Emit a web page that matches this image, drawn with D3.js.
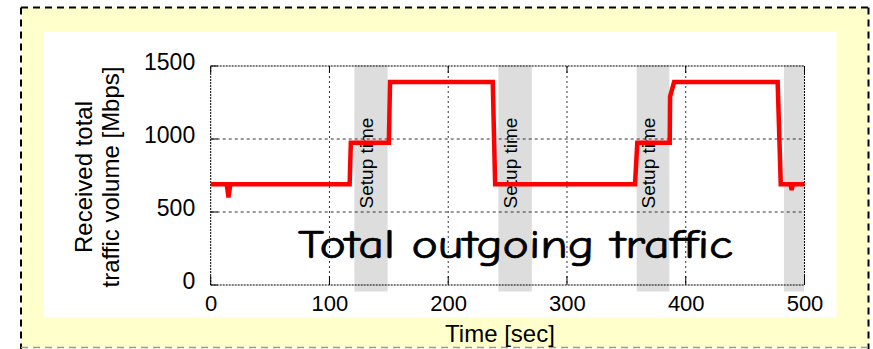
<!DOCTYPE html>
<html>
<head>
<meta charset="utf-8">
<script src="https://cdn.jsdelivr.net/npm/d3@7"></script>
<style>
  html, body { margin: 0; padding: 0; background: #ffffff; }
  svg { display: block; }
  text { font-family: Arial, "Liberation Sans", sans-serif; fill: #000; }
</style>
</head>
<body>
<svg id="chart" width="873" height="349"></svg>
<script>
// ---- data ----
const trafficTime = [0, 13.5, 15, 16.5, 117, 118, 150, 151, 237.5, 239.5, 357.3, 359.2, 386.5, 386.8, 390.2, 477.4, 480, 488.2, 489.2, 490.2, 500];
const trafficMbps = [690, 690, 600, 690, 690, 975, 975, 1390, 1390, 690, 690, 975, 975, 1290, 1390, 1390, 690, 690, 650, 690, 690];
const setupStart = [121, 242.2, 358.7, 482.7];
const setupEnd   = [149, 270.4, 386.2, 499.6];
const setupLabel = ["Setup time", "Setup time", "Setup time", ""];
const xTicks = [0, 100, 200, 300, 400, 500];
const yTicks = [0, 500, 1000, 1500];
const xGrid = [100, 200, 300, 400];
const yGrid = [500, 1000];
const xTitle = "Time [sec]";
const yTitle = ["Received total", "traffic volume [Mbps]"];
const overlayText = "Total outgoing traffic";

// ---- layout ----
const svg = d3.select("#chart");
const x = d3.scaleLinear().domain([0, 500]).range([210.7, 804.5]);
const y = d3.scaleLinear().domain([0, 1500]).range([285, 66]);

// outer yellow panel with dashed border
svg.append("rect").attr("x", 21).attr("y", 7.5).attr("width", 848).attr("height", 340)
  .attr("fill", "#ffffcc").attr("stroke", "none");
const borderDash = "7,5";
svg.append("line").attr("x1", 21).attr("x2", 869).attr("y1", 7.5).attr("y2", 7.5)
  .attr("stroke", "#000").attr("stroke-width", 2).attr("stroke-dasharray", borderDash);
svg.append("line").attr("x1", 21).attr("x2", 21).attr("y1", 7.5).attr("y2", 349)
  .attr("stroke", "#000").attr("stroke-width", 2).attr("stroke-dasharray", borderDash);
svg.append("line").attr("x1", 868.5).attr("x2", 868.5).attr("y1", 7.5).attr("y2", 349)
  .attr("stroke", "#000").attr("stroke-width", 2).attr("stroke-dasharray", borderDash);
svg.append("line").attr("x1", 21).attr("x2", 869).attr("y1", 347.5).attr("y2", 347.5)
  .attr("stroke", "#999").attr("stroke-width", 1.5).attr("stroke-dasharray", borderDash);

// inner white panel
svg.append("rect").attr("x", 43.5).attr("y", 32).attr("width", 793).attr("height", 285.5)
  .attr("fill", "#ffffff");

// setup bands
const bandTop = 65, bandBottom = 291.5;
svg.append("g").selectAll("rect").data(setupStart).join("rect")
  .attr("x", (d) => x(d))
  .attr("width", (d, i) => x(setupEnd[i]) - x(d))
  .attr("y", bandTop).attr("height", bandBottom - bandTop)
  .attr("fill", "#dcdddc");

// grid
const g = svg.append("g");
g.selectAll("line.vg").data(xGrid).join("line").attr("class", "vg")
  .attr("x1", (d) => x(d)).attr("x2", (d) => x(d))
  .attr("y1", y(1500)).attr("y2", y(0))
  .attr("stroke", "#333").attr("stroke-width", 1).attr("stroke-dasharray", "2,3");
g.selectAll("line.hg").data(yGrid).join("line").attr("class", "hg")
  .attr("x1", x(0)).attr("x2", x(500))
  .attr("y1", (d) => y(d)).attr("y2", (d) => y(d))
  .attr("stroke", "#333").attr("stroke-width", 1).attr("stroke-dasharray", "3,3");

// frame (dotted)
const frameDash = "2,1";
[[x(0), y(1500), x(500), y(1500)], [x(0), y(0), x(500), y(0)],
 [x(0), y(0), x(0), y(1500)], [x(500), y(0), x(500), y(1500)]].forEach((c) => {
  svg.append("line").attr("x1", c[0]).attr("y1", c[1]).attr("x2", c[2]).attr("y2", c[3])
    .attr("stroke", "#000").attr("stroke-width", 1).attr("stroke-dasharray", frameDash);
});

// solid inward ticks
svg.append("g").selectAll("line").data(xTicks).join("line")
  .attr("x1", (d) => x(d)).attr("x2", (d) => x(d))
  .attr("y1", y(0)).attr("y2", y(0) - 9).attr("stroke", "#000").attr("stroke-width", 1);
svg.append("g").selectAll("line").data(xTicks).join("line")
  .attr("x1", (d) => x(d)).attr("x2", (d) => x(d))
  .attr("y1", y(1500)).attr("y2", y(1500) + 7).attr("stroke", "#000").attr("stroke-width", 1);
svg.append("g").selectAll("line").data(yTicks).join("line")
  .attr("x1", x(0)).attr("x2", x(0) + 7)
  .attr("y1", (d) => y(d)).attr("y2", (d) => y(d)).attr("stroke", "#000").attr("stroke-width", 1);

// axes labels via d3 axes
const xAxis = svg.append("g").attr("transform", `translate(0,${y(0)})`)
  .call(d3.axisBottom(x).tickValues(xTicks).tickSize(0).tickPadding(10).tickFormat(d3.format("d")));
xAxis.select(".domain").remove();
xAxis.selectAll("text").style("font-size", "22px").style("font-family", "Arial, 'Liberation Sans', sans-serif").attr("fill", "#000");

const yAxis = svg.append("g").attr("transform", `translate(${x(0)},0)`)
  .call(d3.axisLeft(y).tickValues(yTicks).tickSize(0).tickPadding(15.5).tickFormat(d3.format("d")));
yAxis.select(".domain").remove();
yAxis.selectAll("text").style("font-size", "23px").style("font-family", "Arial, 'Liberation Sans', sans-serif")
  .attr("dy", "0.14em").attr("fill", "#000");

// setup labels
svg.append("g").selectAll("text").data(setupStart).join("text")
  .attr("transform", (d, i) => `translate(${(x(d) + x(setupEnd[i])) / 2 + 1.5},163) rotate(-90)`)
  .attr("text-anchor", "middle")
  .style("font-size", "19px")
  .text((d, i) => setupLabel[i]);

// traffic line
const pts = trafficTime.map((t, i) => [t, trafficMbps[i]]);
svg.append("path").datum(pts)
  .attr("d", d3.line().x((d) => x(d[0])).y((d) => y(d[1])))
  .attr("fill", "none").attr("stroke", "#ff0000").attr("stroke-width", 4.5)
  .attr("stroke-linejoin", "miter").attr("stroke-linecap", "butt");

// overlay title
svg.append("text").attr("x", 298).attr("y", 258)
  .attr("textLength", 435).attr("lengthAdjust", "spacingAndGlyphs")
  .style("font-family", "'Comic Sans MS', 'Comic Neue', 'DejaVu Sans', sans-serif")
  .style("font-size", "40px")
  .attr("stroke", "#000").attr("stroke-width", 0.7)
  .text(overlayText);

// axis titles
svg.append("text").attr("x", 500).attr("y", 342).attr("text-anchor", "middle")
  .style("font-size", "24px").text(xTitle);
svg.append("g").selectAll("text").data(yTitle).join("text")
  .attr("transform", (d, i) => `translate(${92 + i * 27},177) rotate(-90)`)
  .attr("text-anchor", "middle")
  .style("font-size", "24px")
  .text((d) => d);
</script>
</body>
</html>
